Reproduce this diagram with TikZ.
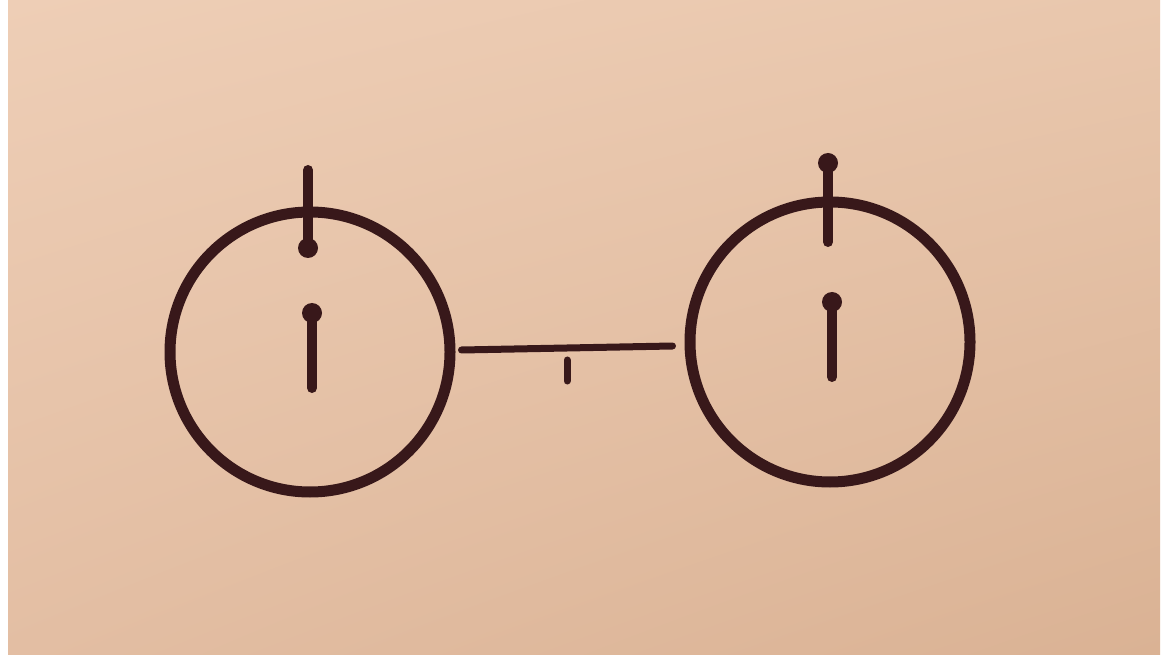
\documentclass[tikz,border=0pt]{standalone}
\usepackage{xcolor}
\usepackage{tikz}
\usetikzlibrary{positioning,calc,shadings}

\definecolor{ink}{RGB}{56,24,26}
\definecolor{bgA}{RGB}{238,206,182}
\definecolor{bgB}{RGB}{233,199,173}
\definecolor{bgC}{RGB}{227,190,163}
\definecolor{bgD}{RGB}{218,178,148}

\begin{document}
\begin{tikzpicture}[x=0.5pt,y=-0.5pt,
    ring/.style={circle,draw=ink,line width=5.5pt,minimum size=140pt,inner sep=0pt},
    pin/.style={ink,line width=5pt,line cap=round},
    link/.style={ink,line width=3.5pt,line cap=round}]
  \useasboundingbox (0,0) rectangle (1166,657);
  \fill[white] (0,0) rectangle (1166,657);
  \shade[upper left=bgA,upper right=bgB,lower left=bgC,lower right=bgD]
    (8,0) rectangle (1160,654);
  % two rings
  \node[ring] (lring) at (310,352) {};
  \node[ring] (rring) at (830,342) {};
  % pins of the left ring
  \draw[pin] (308,170) -- (308,248);
  \fill[ink] (308,248) circle (5pt);
  \draw[pin] (312,313) -- (312,388);
  \fill[ink] (312,313) circle (5pt);
  % pins of the right ring
  \draw[pin] (828,163) -- (828,242);
  \fill[ink] (828,163) circle (5pt);
  \draw[pin] (832,302) -- (832,377);
  \fill[ink] (832,302) circle (5pt);
  % link between the rings
  \draw[link] ([xshift=3pt,yshift=1pt]lring.east) -- ([xshift=-6pt,yshift=-2pt]rring.west);
  \draw[link] (567,360) -- (567,381);
\end{tikzpicture}
\end{document}
